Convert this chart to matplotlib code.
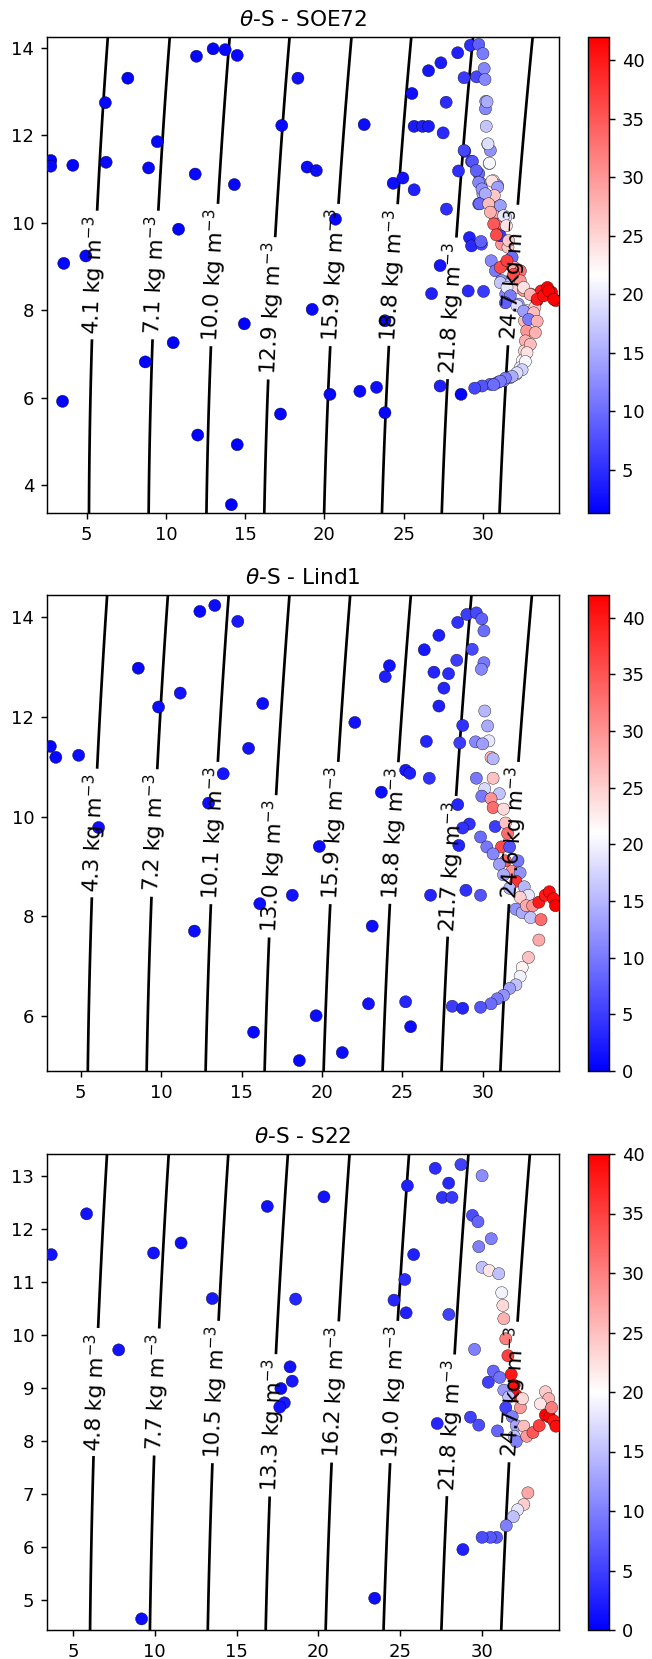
import numpy as np
import matplotlib
matplotlib.use('Agg')
import matplotlib.pyplot as plt

# station names
stations = ['SOE72', 'Lind1', 'S22']

# ---- SOE72 ----
sal1 = [2.74, 2.74, 4.13, 3.56, 4.95, 3.48, 6.18, 6.23, 7.60, 9.46, 8.91, 8.70, 10.80, 10.46,
        11.93, 12.98, 13.74, 14.50, 11.85, 14.32, 14.95, 12.01, 14.50, 14.13, 18.33, 17.31,
        18.91, 19.49, 19.23, 17.23, 22.51, 20.70, 20.35, 22.24, 23.29, 23.82, 23.82, 25.52,
        26.57, 27.35, 28.41, 25.66, 26.19, 26.57, 27.49, 27.68, 24.34, 24.95, 25.66, 28.81,
        29.21, 29.60, 28.86, 29.28, 28.46, 27.70, 27.30, 26.76, 29.07, 30.04, 29.15, 29.28,
        29.91, 27.30, 28.62,
        29.74, 30.00, 30.08, 30.13, 30.18, 30.16, 30.21, 30.31, 30.47, 30.39, 28.81, 29.34,
        29.74, 29.87, 30.66, 30.92, 30.00, 29.74, 30.52, 31.05, 30.66, 30.79, 31.44, 31.00,
        31.18, 31.58, 31.84, 31.44, 31.97, 32.36, 30.52, 30.79, 31.18, 31.71, 32.10, 32.57,
        33.02, 33.41, 33.67, 34.07, 34.33, 34.60, 33.41, 31.44, 32.23, 32.76, 33.28, 33.02,
        32.62, 32.76, 32.68, 32.62, 32.49, 32.36, 32.10, 31.71, 31.31, 30.92, 30.47, 29.95,
        29.48,
        30.26, 30.32, 30.42, 29.58, 29.73, 30.57, 30.93, 29.94, 30.72, 30.15, 29.79, 31.10,
        30.36, 30.47, 31.31, 30.68, 31.48, 31.10, 30.85, 31.62, 29.88, 31.10, 31.52, 31.94,
        32.36, 32.57, 32.99, 33.42, 33.83, 34.15, 34.47, 31.10, 31.52, 31.73, 31.42, 32.15,
        32.57, 33.20, 32.89, 33.42, 33.31, 32.99, 32.78, 32.68, 32.47, 32.15, 31.84, 31.42,
        31.10, 30.68]
temp1 = [11.42, 11.29, 11.31, 9.07, 9.24, 5.92, 12.74, 11.38, 13.30, 11.85, 11.25, 6.82, 9.85, 7.26,
         13.80, 13.97, 13.95, 13.82, 11.11, 10.87, 7.69, 5.15, 4.93, 3.56, 13.30, 12.22,
         11.27, 11.19, 8.02, 5.63, 12.24, 10.08, 6.08, 6.15, 6.24, 7.76, 5.66, 12.95,
         13.47, 13.65, 13.88, 12.20, 12.20, 12.20, 12.05, 12.75, 10.90, 11.02, 10.75, 13.31,
         14.05, 13.33, 11.63, 11.40, 11.18, 10.31, 9.02, 8.38, 8.44, 8.43, 9.66, 9.47,
         9.51, 6.27, 6.08,
         14.07, 13.86, 13.52, 13.27, 12.77, 12.60, 12.20, 11.79, 11.65, 11.35, 11.65, 11.40,
         11.12, 10.90, 10.96, 10.85, 10.66, 10.43, 10.51, 10.39, 10.20, 9.97, 10.12, 9.74,
         9.51, 9.44, 9.21, 9.06, 8.98, 8.90, 9.13, 8.90, 8.68, 8.60, 8.52, 8.45,
         8.37, 8.33, 8.44, 8.52, 8.41, 8.22, 8.22, 8.37, 8.14, 7.99, 8.07, 7.87,
         7.76, 7.53, 7.30, 7.07, 6.85, 6.69, 6.54, 6.46, 6.39, 6.35, 6.31, 6.27,
         6.22,
         12.76, 11.80, 11.36, 11.19, 10.92, 10.95, 10.81, 10.77, 10.62, 10.66, 10.43, 10.39,
         10.43, 10.24, 10.16, 9.97, 9.93, 9.70, 9.72, 9.59, 9.57, 8.98, 9.13, 8.82,
         8.67, 8.52, 8.36, 8.25, 8.33, 8.44, 8.25, 8.63, 8.52, 8.33, 8.17, 8.10,
         7.98, 7.94, 7.79, 7.75, 7.49, 7.22, 7.03, 6.83, 6.64, 6.57, 6.49, 6.45,
         6.38, 6.30]
depth1 = [1.5, 1.8, 1.6, 1.7, 1.8, 1.4, 1.8, 2.0, 1.6, 1.8, 2.0, 1.5, 1.6, 1.5,
          1.8, 1.9, 2.0, 2.0, 2.0, 1.8, 1.6, 1.5, 1.6, 1.4, 2.6, 2.0,
          2.2, 2.4, 2.0, 1.8, 2.3, 1.8, 1.9, 2.2, 2.5, 1.8, 1.9, 2.5,
          3.0, 3.5, 4.0, 3.5, 3.8, 3.5, 4.5, 4.8, 2.5, 2.8, 4.0, 6.0,
          5.0, 7.0, 6.0, 7.0, 5.0, 5.0, 3.0, 4.0, 4.5, 6.0, 4.0, 4.5,
          7.0, 4.0, 1.5,
          9, 11, 12, 12, 14, 12, 17, 19, 13, 21, 7, 8,
          10, 13, 23, 14, 15, 9, 24, 17, 28, 30, 19, 34,
          30, 26, 10, 36, 28, 33, 12, 11, 13, 18, 25, 30,
          32, 38, 40, 42, 42, 41, 39, 12, 14, 20, 26, 11,
          27, 30, 28, 25, 22, 20, 17, 15, 13, 11, 9, 8,
          7,
          15, 19, 21, 9, 12, 24, 14, 13, 26, 15, 10, 14,
          27, 28, 20, 35, 24, 6, 36, 26, 9, 36, 37, 36,
          30, 24, 28, 40, 41, 42, 42, 17, 20, 11, 9, 19,
          14, 27, 11, 28, 28, 27, 24, 21, 18, 19, 15, 11,
          11, 10]

# ---- Lind1 ----
sal2 = [3.11, 3.45, 4.87, 6.11, 8.58, 9.84, 11.19, 12.41, 13.34, 14.77, 16.32, 15.44, 13.86,
        12.95, 12.07, 16.14, 18.16, 15.75, 18.60, 19.64, 21.27, 19.84, 22.05, 23.13, 22.90,
        23.70, 23.94, 24.20, 25.21, 25.47, 25.21, 25.52, 26.37, 27.28, 26.97, 27.88, 27.59,
        27.28, 26.50, 26.68, 28.39, 28.45, 29.02, 29.61, 29.95, 30.08, 29.35, 30.08, 29.92,
        28.76, 28.58, 28.45, 29.17, 28.76, 28.52, 28.96, 29.87, 26.76, 28.11, 28.76,
        29.56, 30.13, 30.31, 30.39, 30.00, 30.52, 30.65, 29.61, 30.65, 30.13, 31.04, 29.95,
        30.52, 30.65, 31.30, 30.78, 31.42, 31.55, 29.87, 30.26, 31.17, 31.68, 31.42, 30.65,
        31.04, 32.20, 31.81, 31.30, 32.33, 32.07, 31.68, 32.59, 32.85, 32.33, 32.07, 32.46,
        32.98, 32.72, 33.11, 33.50, 33.89, 34.15, 34.41, 34.53, 33.63, 33.50, 32.85, 32.46,
        32.33, 32.07, 31.68, 31.30, 30.91, 30.52, 29.87]
temp2 = [11.41, 11.19, 11.23, 9.78, 12.98, 12.20, 12.48, 14.12, 14.24, 13.92, 12.27, 11.37, 10.86,
         10.27, 7.70, 8.25, 8.42, 5.67, 5.10, 6.00, 5.26, 9.40, 11.89, 7.80, 6.24,
         10.49, 12.81, 13.03, 10.93, 10.87, 6.28, 5.78, 13.35, 13.64, 12.90, 12.87, 12.58,
         12.22, 11.51, 10.77, 13.14, 13.90, 14.06, 14.09, 13.97, 13.73, 13.36, 13.09, 12.96,
         11.83, 11.48, 10.24, 9.85, 9.77, 9.42, 8.52, 8.42, 8.42, 6.19, 6.15,
         11.50, 12.12, 11.82, 11.52, 11.46, 11.19, 11.16, 10.77, 10.77, 10.56, 10.46, 10.41,
         10.36, 10.18, 10.15, 9.80, 9.87, 9.66, 9.59, 9.39, 9.39, 9.39, 9.11, 9.25,
         9.04, 9.11, 8.90, 8.83, 8.87, 8.70, 8.56, 8.59, 8.42, 8.38, 8.14, 8.07,
         7.97, 8.21, 8.21, 8.28, 8.42, 8.49, 8.35, 8.21, 7.93, 7.52, 7.17, 6.97,
         6.79, 6.62, 6.55, 6.41, 6.34, 6.24, 6.17]
depth2 = [0.5, 0.8, 1.0, 1.2, 0.8, 1.0, 1.5, 0.7, 1.0, 2.0, 1.2, 1.5, 1.8,
          1.0, 1.0, 1.0, 1.5, 0.8, 0.5, 1.0, 1.0, 1.0, 1.5, 1.2, 1.5,
          1.0, 2.5, 1.5, 2.0, 2.5, 3.0, 1.0, 2.0, 2.5, 3.0, 3.5, 3.0,
          2.5, 3.0, 4.0, 5.0, 4.0, 5.0, 6.0, 8.0, 9.0, 6.0, 10.0, 11.0,
          4.0, 5.0, 3.0, 4.0, 4.0, 3.0, 4.0, 7.0, 3.0, 5.0, 3.0,
          11, 15, 14, 19, 13, 27, 15, 10, 26, 18, 16, 10,
          30, 33, 24, 5, 26, 33, 9, 10, 36, 7, 34, 11,
          13, 10, 30, 14, 12, 38, 15, 15, 19, 25, 12, 14,
          16, 28, 30, 40, 40, 41, 41, 42, 33, 28, 26, 22,
          20, 16, 13, 12, 10, 9, 7]

# ---- S22 ----
sal3 = [3.68, 5.84, 7.80, 9.20, 9.93, 11.61, 13.52, 16.88, 18.27, 18.40, 17.71, 17.92, 17.64,
        18.61, 20.34, 23.44, 24.62, 25.28, 25.36, 25.44, 25.82, 27.14, 27.57, 27.96, 28.16,
        28.71, 27.97, 27.26, 29.29, 29.80, 28.83, 30.00, 29.41, 29.75, 30.56, 29.80, 29.54,
        30.00, 30.43, 31.02, 31.20, 31.27, 31.33, 31.45, 31.58, 31.78, 31.96, 32.09, 30.38,
        30.69, 31.08, 31.33, 31.63, 31.45, 31.84, 30.94, 32.09, 31.96, 32.09, 32.34, 32.47,
        32.55, 32.73, 33.11, 33.49, 33.87, 34.13, 34.38, 34.51, 33.87, 34.07, 33.56, 34.25,
        32.80, 32.55, 32.17, 31.91, 31.48, 30.89, 30.51, 30.00]
temp3 = [11.52, 12.29, 9.72, 4.64, 11.55, 11.74, 10.69, 12.43, 9.40, 9.13, 8.99, 8.72, 8.64,
         10.68, 12.61, 5.03, 10.66, 11.05, 10.42, 12.82, 11.52, 13.15, 12.60, 12.87, 12.60,
         13.22, 10.39, 8.33, 8.45, 8.30, 5.95, 13.01, 12.26, 12.14, 11.82, 11.67, 9.73,
         11.28, 11.22, 11.16, 10.80, 10.56, 10.31, 9.93, 9.61, 9.26, 9.05, 8.86, 9.11,
         9.32, 9.20, 8.96, 8.83, 8.63, 8.46, 8.19, 8.29, 8.09, 7.99, 8.63, 8.80,
         8.28, 8.09, 8.16, 8.29, 8.49, 8.45, 8.38, 8.28, 8.93, 8.80, 8.70, 8.63,
         7.02, 6.80, 6.70, 6.57, 6.40, 6.18, 6.18, 6.18]
depth3 = [1.5, 1.5, 1.5, 1.0, 1.5, 1.0, 2.0, 1.5, 1.5, 2.0, 1.0, 2.0, 1.5,
          3.0, 1.5, 1.0, 3.0, 3.5, 2.5, 2.5, 2.5, 3.5, 4.0, 3.0, 4.5,
          5.0, 5.0, 3.0, 5.0, 6.0, 2.5, 11.0, 6.0, 8.0, 10.0, 10.0, 10.0,
          15, 22, 15, 19, 23, 26, 30, 35, 38, 39, 39, 5,
          8, 9, 12, 15, 5, 10, 8, 13, 15, 10, 28, 23,
          25, 28, 33, 35, 40, 40, 38, 39, 24, 26, 22, 30,
          27, 24, 18, 15, 10, 7, 7, 6]

sal_all = [sal1, sal2, sal3]
temp_all = [temp1, temp2, temp3]
depth_all = [depth1, depth2, depth3]

# axis limits and colour range per station
xlims = [(2.5, 34.8), (2.9, 34.75), (3.42, 34.7)]
ylims = [(3.37, 14.24), (4.89, 14.45), (4.43, 13.42)]
depth_range = [(1.3, 42.0), (0.0, 42.0), (0.0, 40.0)]

# isopycnal levels shown on each plot
sig_levels = [[4.1, 7.1, 10.0, 12.9, 15.9, 18.8, 21.8, 24.7],
              [4.3, 7.2, 10.1, 13.0, 15.9, 18.8, 21.7, 24.6],
              [4.8, 7.7, 10.5, 13.3, 16.2, 19.0, 21.8, 24.7]]


def sigma_t(S, T):
    # UNESCO 1983 density at surface pressure, minus 1000
    rw = (999.842594 + 6.793952e-2*T - 9.095290e-3*T**2 + 1.001685e-4*T**3
          - 1.120083e-6*T**4 + 6.536332e-9*T**5)
    A = 8.24493e-1 - 4.0899e-3*T + 7.6438e-5*T**2 - 8.2467e-7*T**3 + 5.3875e-9*T**4
    B = -5.72466e-3 + 1.0227e-4*T - 1.6546e-6*T**2
    C = 4.8314e-4
    return rw + A*S + B*S**1.5 + C*S**2 - 1000.


W, H = 652., 1659.
DPI = 130
fig = plt.figure(figsize=(W/DPI, H/DPI), dpi=DPI)
ax_tops = [37, 595, 1154]
ax_h = 476

for i in range(3):
    top = ax_tops[i]
    ax = fig.add_axes([47/W, 1 - (top + ax_h)/H, (559-47)/W, ax_h/H])
    cax = fig.add_axes([588/W, 1 - (top + ax_h)/H, 21/W, ax_h/H])

    x0, x1 = xlims[i]
    y0, y1 = ylims[i]
    s_grid = np.linspace(x0, x1, 150)
    t_grid = np.linspace(y0, y1, 150)
    ss, tt = np.meshgrid(s_grid, t_grid)
    dens = sigma_t(ss, tt)
    cs = ax.contour(ss, tt, dens, levels=sig_levels[i], colors='k', linewidths=1.5)

    # labels sit around mid height, 4th and 7th a bit lower
    ymid = 0.5*(y0 + y1)
    lab_pos = []
    for k, lev in enumerate(sig_levels[i]):
        yl = ymid - 0.07*(y1 - y0) if k in (3, 6) else ymid
        xl = np.interp(lev, sigma_t(s_grid, yl), s_grid)
        lab_pos.append((xl, yl))
    ax.clabel(cs, fmt='%1.1f kg m$^{-3}$', fontsize=12, inline=True, manual=lab_pos)

    sc = ax.scatter(sal_all[i], temp_all[i], c=depth_all[i], cmap='bwr',
                    vmin=depth_range[i][0], vmax=depth_range[i][1],
                    s=45, edgecolors='k', linewidths=0.2, zorder=3)
    fig.colorbar(sc, cax=cax)

    ax.set_xlim(x0, x1)
    ax.set_ylim(y0, y1)
    ax.set_title(r'$\theta$-S - ' + stations[i])

fig.savefig('out.png', dpi=DPI)
